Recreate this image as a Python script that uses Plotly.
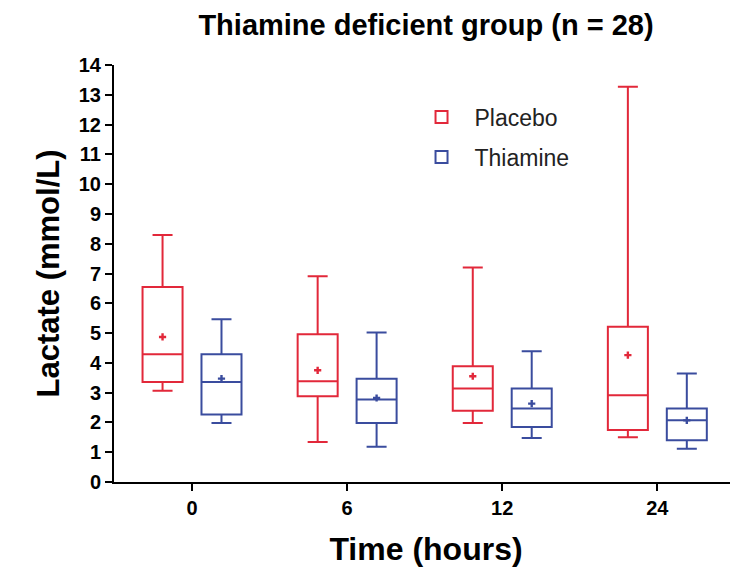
import plotly.graph_objects as go

time_labels = ["0", "6", "12", "24"]

placebo_min = [3.06, 1.34, 1.98, 1.50]
placebo_q1 = [3.36, 2.88, 2.39, 1.75]
placebo_median = [4.29, 3.38, 3.14, 2.91]
placebo_q3 = [6.55, 4.96, 3.89, 5.21]
placebo_max = [8.29, 6.91, 7.20, 13.27]
placebo_mean = [4.87, 3.75, 3.55, 4.26]

thiamine_min = [1.98, 1.18, 1.48, 1.12]
thiamine_q1 = [2.27, 1.98, 1.85, 1.40]
thiamine_median = [3.36, 2.77, 2.47, 2.07]
thiamine_q3 = [4.29, 3.47, 3.14, 2.47]
thiamine_max = [5.46, 5.02, 4.39, 3.64]
thiamine_mean = [3.47, 2.82, 2.63, 2.07]

RED = "#E2283A"
BLUE = "#3A4C9E"
FONT = "Liberation Sans, Arial, sans-serif"

idx = list(range(len(time_labels)))
offset = 0.19
box_w = 0.258
xp = [i - offset for i in idx]
xt = [i + offset for i in idx]

fig = go.Figure()
series = [
    ("Placebo", xp, placebo_min, placebo_q1, placebo_median, placebo_q3, placebo_max, placebo_mean, RED, "legend"),
    ("Thiamine", xt, thiamine_min, thiamine_q1, thiamine_median, thiamine_q3, thiamine_max, thiamine_mean, BLUE, "legend2"),
]
for name, xs, mn, q1, med, q3, mx, mean, col, lg in series:
    fig.add_trace(go.Box(
        name=name, x=xs, q1=q1, median=med, q3=q3,
        lowerfence=mn, upperfence=mx,
        width=box_w, whiskerwidth=0.5,
        line=dict(color=col, width=2),
        fillcolor="rgba(255,255,255,0)",
        boxpoints=False, legend=lg, showlegend=True,
    ))
    fig.add_trace(go.Scatter(
        x=xs, y=mean, mode="markers",
        marker=dict(symbol="cross", size=6, color=col),
        showlegend=False, hoverinfo="skip",
    ))

legend_font = dict(size=23, family=FONT, color="#222")
fig.update_layout(
    width=738, height=577,
    margin=dict(l=106, r=8, t=57, b=103),
    paper_bgcolor="white", plot_bgcolor="white",
    font=dict(family=FONT, color="black"),
    showlegend=True,
    title=dict(text="<b>Thiamine deficient group (n = 28)</b>",
               x=0.5, xref="paper", y=1 - 17 / 577, yref="container",
               xanchor="center", yanchor="middle",
               font=dict(size=29, family=FONT, color="black")),
    legend=dict(x=0.472, y=0.875, xanchor="left", yanchor="middle",
                font=legend_font, bgcolor="rgba(0,0,0,0)", itemwidth=56),
    legend2=dict(x=0.472, y=0.779, xanchor="left", yanchor="middle",
                 font=legend_font, bgcolor="rgba(0,0,0,0)", itemwidth=56),
    xaxis=dict(
        range=[-0.503, 3.52], tickvals=idx, ticktext=time_labels,
        showline=True, linecolor="black", linewidth=2,
        ticks="outside", ticklen=7, tickwidth=2, tickcolor="black",
        showgrid=False, zeroline=False,
        tickfont=dict(size=20, family=FONT, color="black", weight="bold"),
        title=dict(text="<b>Time (hours)</b>", font=dict(size=32, family=FONT), standoff=20),
    ),
    yaxis=dict(
        range=[0, 14], dtick=1,
        showline=True, linecolor="black", linewidth=2,
        ticks="outside", ticklen=7, tickwidth=2, tickcolor="black",
        showgrid=False, zeroline=False,
        tickfont=dict(size=20, family=FONT, color="black", weight="bold"),
        title=dict(text="<b>Lactate (mmol/L)</b>", font=dict(size=31, family=FONT), standoff=10),
    ),
)

fig.write_html("out.html")
